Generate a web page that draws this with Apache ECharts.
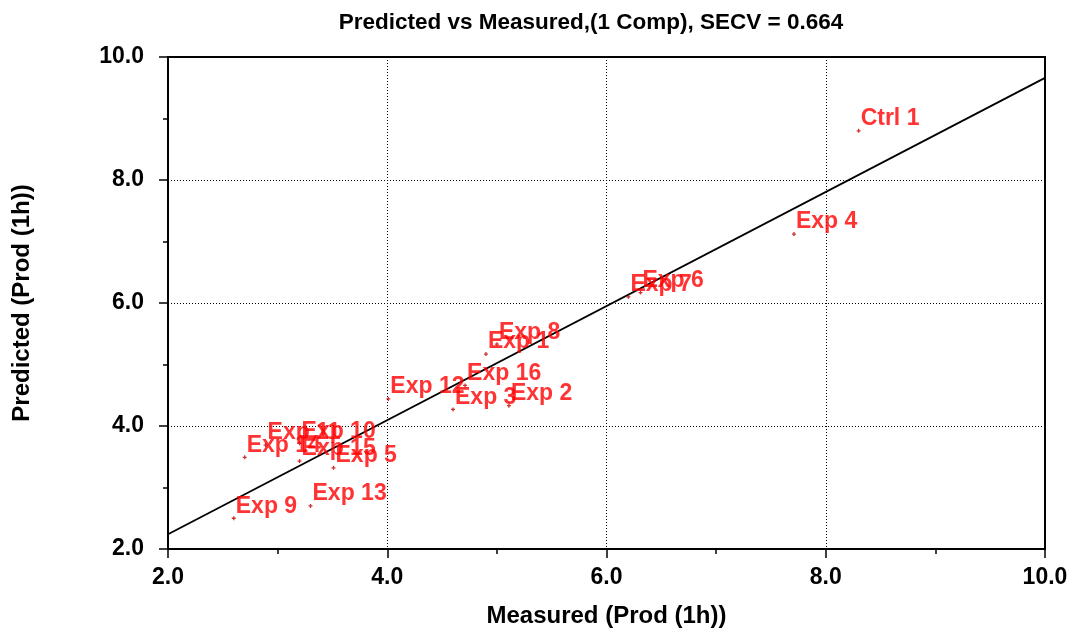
<!DOCTYPE html>
<html>
<head>
<meta charset="utf-8">
<script src="https://cdn.jsdelivr.net/npm/echarts@6/dist/echarts.min.js"></script>
<style>
  html, body { margin: 0; padding: 0; background: #fff; }
  #chart { width: 1071px; height: 633px; }
</style>
</head>
<body>
<div id="chart"></div>
<script>
// Sample names with measured and cross-validated predicted values
const sampleNames = ['Ctrl 1', 'Exp 1', 'Exp 2', 'Exp 3', 'Exp 4', 'Exp 5', 'Exp 6', 'Exp 7', 'Exp 8',
                     'Exp 9', 'Exp 10', 'Exp 11', 'Exp 12', 'Exp 13', 'Exp 14', 'Exp 15', 'Exp 16'];
const measured  = [8.30, 4.90, 5.11, 4.60, 7.71, 3.51, 6.31, 6.20, 5.00,
                   2.60, 3.20, 2.89, 4.01, 3.30, 2.70, 3.20, 4.71];
const predicted = [8.80, 5.17, 4.33, 4.27, 7.12, 3.32, 6.17, 6.10, 5.33,
                   2.50, 3.72, 3.69, 4.44, 2.70, 3.49, 3.43, 4.66];

// Regression line end points (measured -> predicted)
const fitX = [2.0, 10.0];
const fitY = [2.24, 9.66];

const axisTicks = [2.0, 4.0, 6.0, 8.0, 10.0];

const FONT = '"Liberation Sans", Arial, sans-serif';

const points = sampleNames.map((n, i) => ({ name: n, value: [measured[i], predicted[i]] }));
const fitLine = fitX.map((x, i) => [x, fitY[i]]);

function valueAxis(extra) {
  return Object.assign({
    type: 'value',
    min: axisTicks[0],
    max: axisTicks[axisTicks.length - 1],
    interval: axisTicks[1] - axisTicks[0],
    nameLocation: 'middle',
    nameTextStyle: { fontFamily: FONT, fontWeight: 'bold', fontSize: 24, color: '#000' },
    axisLine: { show: true, lineStyle: { color: '#000', width: 2 } },
    axisTick: { show: true, length: 9, lineStyle: { color: '#000', width: 1.5 } },
    minorTick: { show: true, splitNumber: 2, length: 5, lineStyle: { color: '#000', width: 1.5 } },
    splitLine: {
      show: true, showMinLine: false, showMaxLine: false,
      lineStyle: { color: '#000', width: 1, type: [1, 2] }
    }
  }, extra);
}

const tickLabelStyle = {
  fontFamily: FONT, fontWeight: 'bold', fontSize: 23, color: '#000',
  formatter: v => v.toFixed(1)
};

const chart = echarts.init(document.getElementById('chart'), null, { renderer: 'canvas' });
chart.setOption({
  backgroundColor: '#fff',
  animation: false,
  title: {
    text: 'Predicted vs Measured,(1 Comp), SECV = 0.664',
    left: 586,
    top: 6,
    textAlign: 'center',
    textStyle: { fontFamily: FONT, fontWeight: 'bold', fontSize: 22.5, color: '#000' }
  },
  grid: {
    left: 168, right: 26, top: 57, bottom: 84,
    show: true, borderColor: '#000', borderWidth: 2, backgroundColor: 'transparent'
  },
  xAxis: valueAxis({
    name: 'Measured (Prod (1h))',
    nameGap: 55,
    axisLabel: Object.assign({ margin: 17 }, tickLabelStyle)
  }),
  yAxis: valueAxis({
    name: 'Predicted (Prod (1h))',
    nameGap: 134,
    axisLabel: Object.assign({ margin: 24 }, tickLabelStyle)
  }),
  series: [
    {
      type: 'line',
      data: fitLine,
      showSymbol: false,
      symbol: 'none',
      lineStyle: { color: '#000', width: 1.8 },
      z: 2,
      silent: true
    },
    {
      type: 'scatter',
      data: points,
      symbol: 'path://M1,0L2,0L2,1L3,1L3,2L2,2L2,3L1,3L1,2L0,2L0,1L1,1Z',
      symbolSize: 4,
      itemStyle: { color: '#c00000' },
      label: {
        show: true,
        position: [4, -10],
        align: 'left',
        verticalAlign: 'middle',
        formatter: p => p.name,
        fontFamily: FONT, fontWeight: 'bold', fontSize: 23, color: '#ff0000',
        textBorderWidth: 0, textBorderColor: 'transparent'
      },
      labelLayout: { hideOverlap: false },
      z: 3
    }
  ]
});
</script>
</body>
</html>
